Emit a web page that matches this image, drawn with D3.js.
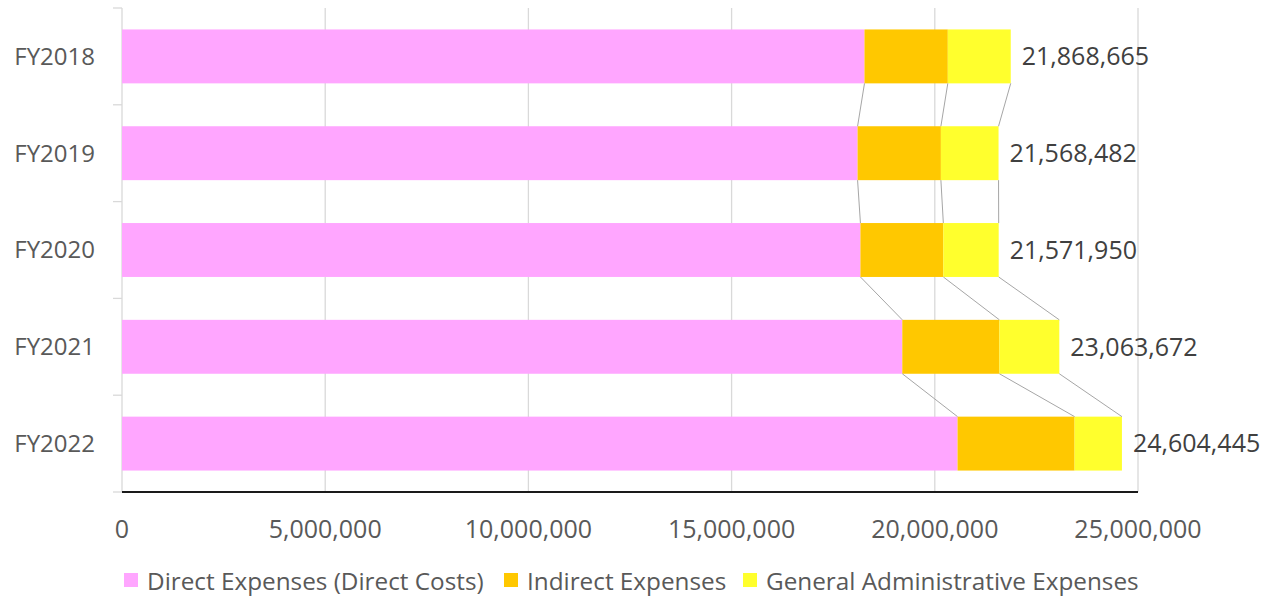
<!DOCTYPE html>
<html>
<head>
<meta charset="utf-8">
<script src="https://cdn.jsdelivr.net/npm/d3@7"></script>
<style>
  body { margin: 0; background: #fff; }
  text { font-family: "Open Sans", sans-serif; }
</style>
</head>
<body>
<svg id="chart" width="1261" height="596"></svg>
<script>
const years = ["FY2018", "FY2019", "FY2020", "FY2021", "FY2022"];
const direct = [18270000, 18100000, 18170000, 19200000, 20560000];
const indirect = [2050000, 2050000, 2040000, 2390000, 2880000];
const general = [1548665, 1418482, 1361950, 1473672, 1164445];
const totals = [21868665, 21568482, 21571950, 23063672, 24604445];
const seriesNames = ["Direct Expenses (Direct Costs)", "Indirect Expenses", "General Administrative Expenses"];
const colors = ["#ffa6ff", "#ffc800", "#ffff2d"];
const xTicks = [0, 5000000, 10000000, 15000000, 20000000, 25000000];

const svg = d3.select("#chart");
const margin = { left: 122, right: 123, top: 8, bottom: 104 };
const W = 1261, H = 596;

const x = d3.scaleLinear()
  .domain([0, 25000000])
  .range([margin.left, W - margin.right]);
const y = d3.scaleBand()
  .domain(years)
  .range([margin.top, H - margin.bottom])
  .paddingInner(0.443)
  .paddingOuter(0.2215);

// table for the stack
const rows = years.map((yr, i) => ({ year: yr, d: direct[i], n: indirect[i], g: general[i] }));
const stack = d3.stack().keys(["d", "n", "g"])(rows);

// gridlines
svg.append("g")
  .selectAll("line")
  .data(xTicks.slice(1))
  .enter()
  .append("line")
  .attr("x1", (d) => x(d)).attr("x2", (d) => x(d))
  .attr("y1", margin.top).attr("y2", H - margin.bottom)
  .attr("stroke", "#d9d9d9").attr("stroke-width", 1.3);

// left axis (gray, with ticks between categories)
const bandEdges = d3.range(years.length + 1).map((i) => margin.top + i * y.step());
svg.append("line")
  .attr("x1", margin.left).attr("x2", margin.left)
  .attr("y1", margin.top).attr("y2", H - margin.bottom)
  .attr("stroke", "#d9d9d9").attr("stroke-width", 1.3);
svg.append("g")
  .selectAll("line")
  .data(bandEdges)
  .enter()
  .append("line")
  .attr("x1", margin.left - 9).attr("x2", margin.left)
  .attr("y1", (d) => d).attr("y2", (d) => d)
  .attr("stroke", "#d9d9d9").attr("stroke-width", 1.3);

// bars
svg.append("g")
  .selectAll("g")
  .data(stack)
  .enter()
  .append("g")
  .attr("fill", (s, i) => colors[i])
  .selectAll("rect")
  .data((s) => s)
  .enter()
  .append("rect")
  .attr("x", (d) => x(d[0]))
  .attr("width", (d) => x(d[1]) - x(d[0]))
  .attr("y", (d) => y(d.data.year))
  .attr("height", y.bandwidth());

// series lines between consecutive bars
stack.forEach((s) => {
  for (let i = 0; i < s.length - 1; i++) {
    svg.append("line")
      .attr("x1", x(s[i][1])).attr("y1", y(years[i]) + y.bandwidth())
      .attr("x2", x(s[i + 1][1])).attr("y2", y(years[i + 1]))
      .attr("stroke", "#a6a6a6").attr("stroke-width", 1);
  }
});

// bottom axis line
svg.append("line")
  .attr("x1", margin.left).attr("x2", W - margin.right)
  .attr("y1", H - margin.bottom).attr("y2", H - margin.bottom)
  .attr("stroke", "#1a1a1a").attr("stroke-width", 2);

// x tick labels
svg.append("g")
  .selectAll("text")
  .data(xTicks)
  .enter()
  .append("text")
  .attr("x", (d) => x(d))
  .attr("y", 529)
  .attr("dy", "0.35em")
  .attr("text-anchor", "middle")
  .attr("fill", "#595959")
  .attr("font-size", 25)
  .text((d) => d3.format(",")(d));

// y labels
svg.append("g")
  .selectAll("text")
  .data(years)
  .enter()
  .append("text")
  .attr("x", 95)
  .attr("y", (d) => y(d) + y.bandwidth() / 2)
  .attr("dy", "0.35em")
  .attr("text-anchor", "end")
  .attr("fill", "#595959")
  .attr("font-size", 24)
  .text((d) => d);

// total labels
svg.append("g")
  .selectAll("text")
  .data(totals)
  .enter()
  .append("text")
  .attr("x", (d, i) => x(d) + 11)
  .attr("y", (d, i) => y(years[i]) + y.bandwidth() / 2)
  .attr("dy", "0.35em")
  .attr("fill", "#404040")
  .attr("font-size", 25)
  .text((d) => d3.format(",")(d));

// legend
const legendX = [124, 504, 743];
const legend = svg.append("g")
  .selectAll("g")
  .data(seriesNames)
  .enter()
  .append("g")
  .attr("transform", (d, i) => `translate(${legendX[i]},0)`);
legend.append("rect")
  .attr("y", 573).attr("width", 14).attr("height", 14)
  .attr("fill", (d, i) => colors[i]);
legend.append("text")
  .attr("x", 23).attr("y", 581)
  .attr("dy", "0.35em")
  .attr("fill", "#595959")
  .attr("font-size", 24.3)
  .text((d) => d);
</script>
</body>
</html>
